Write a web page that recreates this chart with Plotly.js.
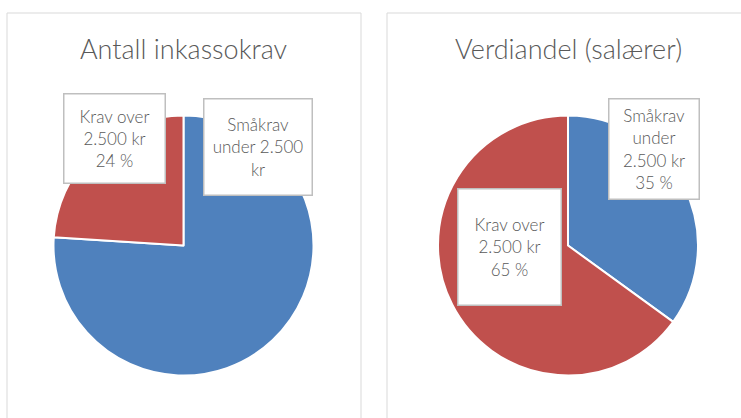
<!DOCTYPE html>
<html>
<head>
<meta charset="utf-8">
<script src="https://cdn.plot.ly/plotly-3.0.1.min.js"></script>
<style>html,body{margin:0;padding:0;background:#fff;}#chart{width:741px;height:418px;}</style>
</head>
<body>
<div id="chart"></div>
<script>
// ---- data ----
var categories = ["Småkrav under 2.500 kr", "Krav over 2.500 kr"];
var titles = ["Antall inkassokrav", "Verdiandel (salærer)"];
var valuesAntall = [76, 24];
var valuesVerdi = [35, 65];
// label text as wrapped in the reference boxes
var labelLinesAntall = ["Småkrav<br>under 2.500<br>kr", "Krav over<br>2.500 kr"];
var labelLinesVerdi = ["Småkrav<br>under<br>2.500 kr", "Krav over<br>2.500 kr"];
var showPctAntall = [false, true];
var showPctVerdi = [true, true];
var colors = ["#4f81bd", "#c0504d"];

var W = 741, H = 418;
function px(x) { return x / W; }
function py(y) { return 1 - y / H; }

function pct(vals, i) {
  var s = vals.reduce(function (a, b) { return a + b; }, 0);
  return Math.round(vals[i] / s * 100) + " %";
}
function boxText(lines, vals, show, i) {
  return lines[i] + (show[i] ? "<br>" + pct(vals, i) : "");
}

var pieCommon = {
  type: "pie",
  labels: categories,
  sort: false,
  direction: "clockwise",
  rotation: 0,
  textinfo: "none",
  hoverinfo: "label+percent",
  showlegend: false,
  marker: { colors: colors, line: { color: "#ffffff", width: 2 } }
};

var R = 130;
var c1 = [183.5, 245.5], c2 = [568, 245.5];
var trace1 = Object.assign({}, pieCommon, {
  values: valuesAntall,
  domain: { x: [px(c1[0] - R), px(c1[0] + R)], y: [py(c1[1] + R), py(c1[1] - R)] }
});
var trace2 = Object.assign({}, pieCommon, {
  values: valuesVerdi,
  domain: { x: [px(c2[0] - R), px(c2[0] + R)], y: [py(c2[1] + R), py(c2[1] - R)] }
});

var labelFont = { family: "Lato, 'Open Sans', sans-serif", size: 17, color: "#595959", weight: 300 };
function box(text, cx, cy, w, h) {
  return {
    xref: "paper", yref: "paper", x: px(cx), y: py(cy),
    xanchor: "center", yanchor: "middle", showarrow: false,
    text: text, font: labelFont, align: "center",
    width: w, height: h, bgcolor: "#ffffff",
    bordercolor: "#bfbfbf", borderwidth: 1.5, borderpad: 0
  };
}
var titleFont = { family: "Lato, 'Open Sans', sans-serif", size: 27, color: "#595959", weight: 300 };
var annotations = [
  { xref: "paper", yref: "paper", x: px(183), y: py(48), xanchor: "center", yanchor: "middle",
    showarrow: false, text: titles[0], font: titleFont },
  { xref: "paper", yref: "paper", x: px(568), y: py(48), xanchor: "center", yanchor: "middle",
    showarrow: false, text: titles[1], font: titleFont },
  box(boxText(labelLinesAntall, valuesAntall, showPctAntall, 1), 114, 138, 100, 88),
  box(boxText(labelLinesAntall, valuesAntall, showPctAntall, 0), 257.5, 146.5, 107, 95),
  box(boxText(labelLinesVerdi, valuesVerdi, showPctVerdi, 0), 653.5, 149.5, 89, 99),
  box(boxText(labelLinesVerdi, valuesVerdi, showPctVerdi, 1), 510, 247.5, 102, 115)
];

var shapes = [
  { type: "rect", xref: "paper", yref: "paper", x0: px(7), x1: px(361), y0: py(425), y1: py(13),
    line: { color: "#d9d9d9", width: 1 }, fillcolor: "rgba(0,0,0,0)", layer: "below" },
  { type: "rect", xref: "paper", yref: "paper", x0: px(387), x1: px(750), y0: py(425), y1: py(13),
    line: { color: "#d9d9d9", width: 1 }, fillcolor: "rgba(0,0,0,0)", layer: "below" }
];

var layout = {
  width: W, height: H,
  margin: { l: 0, r: 0, t: 0, b: 0 },
  paper_bgcolor: "#ffffff",
  annotations: annotations,
  shapes: shapes
};
Plotly.newPlot("chart", [trace1, trace2], layout, { displayModeBar: false, staticPlot: true });
</script>
</body>
</html>
